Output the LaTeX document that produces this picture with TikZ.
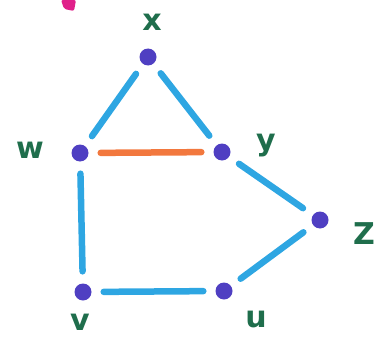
\documentclass[tikz,border=0pt]{standalone}
\usepackage{fontspec}
\setmainfont{DejaVu Sans}
\usepackage{tikz}
\usetikzlibrary{calc}
\definecolor{edgeblue}{HTML}{2EA6E2}
\definecolor{edgeorange}{HTML}{F2783E}
\definecolor{dotblue}{HTML}{4F3FC2}
\definecolor{labgreen}{HTML}{1F6E4C}
\definecolor{markpink}{HTML}{E0208A}

\begin{document}
\begin{tikzpicture}[x=1pt,y=-1pt,
    vert/.style={circle,fill=dotblue,minimum size=17pt,inner sep=0pt},
    lab/.style={text=labgreen,font=\bfseries\fontsize{30}{30}\selectfont,inner sep=0pt},
    edge/.style={line width=6.5pt,line cap=round,edgeblue,shorten <=12pt,shorten >=12pt}]
  \useasboundingbox (0,0) rectangle (377,345);
  \fill[markpink,rounded corners=2pt] (61,0) -- (76,0) -- (74,11) -- (64,9) -- cycle;
  \node[vert] (x) at (148,57) {};
  \node[vert] (w) at (80,153) {};
  \node[vert] (y) at (222,152) {};
  \node[vert] (z) at (320,220) {};
  \node[vert] (v) at (83,292) {};
  \node[vert] (u) at (224,291) {};
  \node[lab] (xl) at (152,22) {x};
  \node[lab] (wl) at (30,150) {w};
  \node[lab] (yl) at (266,146) {y};
  \node[lab] (zl) at (364,234) {Z};
  \node[lab] (vl) at (80,322) {v};
  \node[lab] (ul) at (256,320) {u};
  \draw[edge] (x) -- (w);
  \draw[edge] (x) -- (y);
  \draw[edge] (y) -- (z);
  \draw[edge] (z) -- (u);
  \draw[edge] (u) -- (v);
  \draw[edge] (v) -- (w);
  \draw[edge,edgeorange] (w) -- (y);
\end{tikzpicture}
\end{document}
